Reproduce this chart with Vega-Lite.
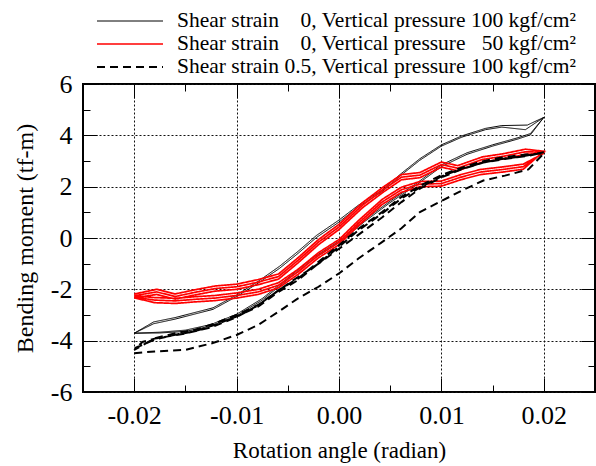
{
"$schema": "https://vega.github.io/schema/vega-lite/v6.json",
"width": 512,
"height": 308,
"autosize": {"type": "none"},
"padding": {"left": 83, "top": 84, "right": 1, "bottom": 74},
"background": "white",
"config": {
  "view": {"stroke": "black", "strokeWidth": 2},
  "font": "Liberation Serif"
},
"datasets": {
"curves": [
{"s":"a","i":1,"x":-0.02,"y":-3.71},{"s":"a","i":2,"x":-0.0175,"y":-3.70},{"s":"a","i":3,"x":-0.015,"y":-3.64},{"s":"a","i":4,"x":-0.0125,"y":-3.43},{"s":"a","i":5,"x":-0.01,"y":-3.03},{"s":"a","i":6,"x":-0.0075,"y":-2.42},{"s":"a","i":7,"x":-0.005,"y":-1.62},{"s":"a","i":8,"x":-0.0025,"y":-0.82},{"s":"a","i":9,"x":0,"y":-0.18},{"s":"a","i":10,"x":0.0025,"y":0.64},{"s":"a","i":11,"x":0.005,"y":1.38},{"s":"a","i":12,"x":0.0075,"y":2.05},{"s":"a","i":13,"x":0.01,"y":2.78},{"s":"a","i":14,"x":0.0125,"y":3.26},{"s":"a","i":15,"x":0.015,"y":3.58},{"s":"a","i":16,"x":0.0175,"y":3.86},{"s":"a","i":17,"x":0.0187,"y":4.02},{"s":"a","i":18,"x":0.02,"y":4.70},
{"s":"a","i":19,"x":0.0184,"y":4.40},{"s":"a","i":20,"x":0.0159,"y":4.38},{"s":"a","i":21,"x":0.0143,"y":4.27},{"s":"a","i":22,"x":0.012,"y":3.98},{"s":"a","i":23,"x":0.01,"y":3.63},{"s":"a","i":24,"x":0.0079,"y":3.09},{"s":"a","i":25,"x":0.0061,"y":2.52},{"s":"a","i":26,"x":0.0042,"y":1.87},{"s":"a","i":27,"x":0.0019,"y":1.28},{"s":"a","i":28,"x":0,"y":0.70},{"s":"a","i":29,"x":-0.0022,"y":0.10},{"s":"a","i":30,"x":-0.004,"y":-0.52},{"s":"a","i":31,"x":-0.0058,"y":-1.10},{"s":"a","i":32,"x":-0.0079,"y":-1.69},{"s":"a","i":33,"x":-0.01,"y":-2.22},{"s":"a","i":34,"x":-0.0123,"y":-2.72},{"s":"a","i":35,"x":-0.016,"y":-3.10},{"s":"a","i":36,"x":-0.0181,"y":-3.27},{"s":"a","i":37,"x":-0.02,"y":-3.71},
{"s":"a","i":38,"x":-0.0175,"y":-3.67},{"s":"a","i":39,"x":-0.015,"y":-3.59},{"s":"a","i":40,"x":-0.0125,"y":-3.37},{"s":"a","i":41,"x":-0.01,"y":-2.97},{"s":"a","i":42,"x":-0.0075,"y":-2.36},{"s":"a","i":43,"x":-0.005,"y":-1.56},{"s":"a","i":44,"x":-0.0025,"y":-0.76},{"s":"a","i":45,"x":0,"y":-0.12},{"s":"a","i":46,"x":0.0025,"y":0.70},{"s":"a","i":47,"x":0.005,"y":1.44},{"s":"a","i":48,"x":0.0075,"y":2.11},{"s":"a","i":49,"x":0.01,"y":2.85},{"s":"a","i":50,"x":0.0125,"y":3.32},{"s":"a","i":51,"x":0.015,"y":3.63},{"s":"a","i":52,"x":0.0175,"y":3.91},{"s":"a","i":53,"x":0.0187,"y":4.07},{"s":"a","i":54,"x":0.02,"y":4.70},
{"s":"a","i":55,"x":0.0182,"y":4.22},{"s":"a","i":56,"x":0.0159,"y":4.32},{"s":"a","i":57,"x":0.0143,"y":4.22},{"s":"a","i":58,"x":0.012,"y":3.93},{"s":"a","i":59,"x":0.01,"y":3.58},{"s":"a","i":60,"x":0.0079,"y":3.03},{"s":"a","i":61,"x":0.0061,"y":2.46},{"s":"a","i":62,"x":0.0042,"y":1.80},{"s":"a","i":63,"x":0.0019,"y":1.22},{"s":"a","i":64,"x":0,"y":0.62},{"s":"a","i":65,"x":-0.0022,"y":0.02},{"s":"a","i":66,"x":-0.004,"y":-0.60},{"s":"a","i":67,"x":-0.0058,"y":-1.18},{"s":"a","i":68,"x":-0.0079,"y":-1.76},{"s":"a","i":69,"x":-0.01,"y":-2.28},{"s":"a","i":70,"x":-0.0123,"y":-2.78},{"s":"a","i":71,"x":-0.016,"y":-3.16},{"s":"a","i":72,"x":-0.0181,"y":-3.34},{"s":"a","i":73,"x":-0.02,"y":-3.71},

{"s":"b","i":1,"x":-0.02,"y":-2.30},{"s":"b","i":2,"x":-0.018,"y":-2.42},{"s":"b","i":3,"x":-0.016,"y":-2.45},{"s":"b","i":4,"x":-0.0141,"y":-2.39},{"s":"b","i":5,"x":-0.0121,"y":-2.34},{"s":"b","i":6,"x":-0.01,"y":-2.24},{"s":"b","i":7,"x":-0.0079,"y":-2.10},{"s":"b","i":8,"x":-0.0059,"y":-1.84},{"s":"b","i":9,"x":-0.004,"y":-1.32},{"s":"b","i":10,"x":-0.002,"y":-0.67},{"s":"b","i":11,"x":0,"y":-0.16},{"s":"b","i":12,"x":0.0019,"y":0.58},{"s":"b","i":13,"x":0.0042,"y":1.40},{"s":"b","i":14,"x":0.0061,"y":1.88},{"s":"b","i":15,"x":0.0079,"y":2.10},{"s":"b","i":16,"x":0.01,"y":2.12},{"s":"b","i":17,"x":0.0119,"y":2.37},{"s":"b","i":18,"x":0.0138,"y":2.57},{"s":"b","i":19,"x":0.016,"y":2.67},{"s":"b","i":20,"x":0.018,"y":2.78},{"s":"b","i":21,"x":0.02,"y":3.34},
{"s":"b","i":22,"x":0.0182,"y":3.36},{"s":"b","i":23,"x":0.016,"y":3.18},{"s":"b","i":24,"x":0.014,"y":3.06},{"s":"b","i":25,"x":0.0116,"y":2.72},{"s":"b","i":26,"x":0.01,"y":2.86},{"s":"b","i":27,"x":0.0079,"y":2.45},{"s":"b","i":28,"x":0.0061,"y":2.37},{"s":"b","i":29,"x":0.0043,"y":1.88},{"s":"b","i":30,"x":0.0023,"y":1.28},{"s":"b","i":31,"x":0,"y":0.43},{"s":"b","i":32,"x":-0.002,"y":-0.16},{"s":"b","i":33,"x":-0.004,"y":-0.87},{"s":"b","i":34,"x":-0.0059,"y":-1.50},{"s":"b","i":35,"x":-0.0079,"y":-1.72},{"s":"b","i":36,"x":-0.01,"y":-1.90},{"s":"b","i":37,"x":-0.0121,"y":-1.97},{"s":"b","i":38,"x":-0.0141,"y":-2.12},{"s":"b","i":39,"x":-0.016,"y":-2.28},{"s":"b","i":40,"x":-0.0178,"y":-2.10},{"s":"b","i":41,"x":-0.02,"y":-2.25},
{"s":"b","i":42,"x":-0.018,"y":-2.32},{"s":"b","i":43,"x":-0.016,"y":-2.35},{"s":"b","i":44,"x":-0.0141,"y":-2.29},{"s":"b","i":45,"x":-0.0121,"y":-2.24},{"s":"b","i":46,"x":-0.01,"y":-2.14},{"s":"b","i":47,"x":-0.0079,"y":-2.00},{"s":"b","i":48,"x":-0.0059,"y":-1.74},{"s":"b","i":49,"x":-0.004,"y":-1.22},{"s":"b","i":50,"x":-0.002,"y":-0.57},{"s":"b","i":51,"x":0,"y":-0.06},{"s":"b","i":52,"x":0.0019,"y":0.68},{"s":"b","i":53,"x":0.0042,"y":1.50},{"s":"b","i":54,"x":0.0061,"y":1.98},{"s":"b","i":55,"x":0.0079,"y":2.20},{"s":"b","i":56,"x":0.01,"y":2.22},{"s":"b","i":57,"x":0.0119,"y":2.47},{"s":"b","i":58,"x":0.0138,"y":2.67},{"s":"b","i":59,"x":0.016,"y":2.77},{"s":"b","i":60,"x":0.018,"y":2.88},{"s":"b","i":61,"x":0.02,"y":3.30},
{"s":"b","i":62,"x":0.0182,"y":3.26},{"s":"b","i":63,"x":0.016,"y":3.08},{"s":"b","i":64,"x":0.014,"y":2.96},{"s":"b","i":65,"x":0.0116,"y":2.62},{"s":"b","i":66,"x":0.01,"y":2.76},{"s":"b","i":67,"x":0.0079,"y":2.35},{"s":"b","i":68,"x":0.0061,"y":2.27},{"s":"b","i":69,"x":0.0043,"y":1.78},{"s":"b","i":70,"x":0.0023,"y":1.18},{"s":"b","i":71,"x":0,"y":0.33},{"s":"b","i":72,"x":-0.002,"y":-0.26},{"s":"b","i":73,"x":-0.004,"y":-0.97},{"s":"b","i":74,"x":-0.0059,"y":-1.60},{"s":"b","i":75,"x":-0.0079,"y":-1.82},{"s":"b","i":76,"x":-0.01,"y":-2.00},{"s":"b","i":77,"x":-0.0121,"y":-2.07},{"s":"b","i":78,"x":-0.0141,"y":-2.22},{"s":"b","i":79,"x":-0.016,"y":-2.38},{"s":"b","i":80,"x":-0.0178,"y":-2.20},{"s":"b","i":81,"x":-0.02,"y":-2.33},
{"s":"b","i":82,"x":-0.018,"y":-2.52},{"s":"b","i":83,"x":-0.016,"y":-2.55},{"s":"b","i":84,"x":-0.0141,"y":-2.49},{"s":"b","i":85,"x":-0.0121,"y":-2.44},{"s":"b","i":86,"x":-0.01,"y":-2.34},{"s":"b","i":87,"x":-0.0079,"y":-2.20},{"s":"b","i":88,"x":-0.0059,"y":-1.94},{"s":"b","i":89,"x":-0.004,"y":-1.42},{"s":"b","i":90,"x":-0.002,"y":-0.77},{"s":"b","i":91,"x":0,"y":-0.26},{"s":"b","i":92,"x":0.0019,"y":0.48},{"s":"b","i":93,"x":0.0042,"y":1.30},{"s":"b","i":94,"x":0.0061,"y":1.78},{"s":"b","i":95,"x":0.0079,"y":2.00},{"s":"b","i":96,"x":0.01,"y":2.02},{"s":"b","i":97,"x":0.0119,"y":2.27},{"s":"b","i":98,"x":0.0138,"y":2.47},{"s":"b","i":99,"x":0.016,"y":2.57},{"s":"b","i":100,"x":0.018,"y":2.68},{"s":"b","i":101,"x":0.02,"y":3.38},
{"s":"b","i":102,"x":0.0182,"y":3.46},{"s":"b","i":103,"x":0.016,"y":3.28},{"s":"b","i":104,"x":0.014,"y":3.16},{"s":"b","i":105,"x":0.0116,"y":2.82},{"s":"b","i":106,"x":0.01,"y":2.96},{"s":"b","i":107,"x":0.0079,"y":2.55},{"s":"b","i":108,"x":0.0061,"y":2.47},{"s":"b","i":109,"x":0.0043,"y":1.98},{"s":"b","i":110,"x":0.0023,"y":1.38},{"s":"b","i":111,"x":0,"y":0.53},{"s":"b","i":112,"x":-0.002,"y":-0.06},{"s":"b","i":113,"x":-0.004,"y":-0.77},{"s":"b","i":114,"x":-0.0059,"y":-1.40},{"s":"b","i":115,"x":-0.0079,"y":-1.62},{"s":"b","i":116,"x":-0.01,"y":-1.80},{"s":"b","i":117,"x":-0.0121,"y":-1.87},{"s":"b","i":118,"x":-0.0141,"y":-2.02},{"s":"b","i":119,"x":-0.016,"y":-2.18},{"s":"b","i":120,"x":-0.0178,"y":-2.00},{"s":"b","i":121,"x":-0.02,"y":-2.18},

{"s":"c","i":1,"x":-0.02,"y":-4.49},{"s":"c","i":2,"x":-0.018,"y":-4.42},{"s":"c","i":3,"x":-0.015,"y":-4.36},{"s":"c","i":4,"x":-0.0124,"y":-4.10},{"s":"c","i":5,"x":-0.01,"y":-3.78},{"s":"c","i":6,"x":-0.0079,"y":-3.39},{"s":"c","i":7,"x":-0.0059,"y":-2.87},{"s":"c","i":8,"x":-0.004,"y":-2.35},{"s":"c","i":9,"x":-0.002,"y":-1.90},{"s":"c","i":10,"x":0,"y":-1.38},{"s":"c","i":11,"x":0.0019,"y":-0.80},{"s":"c","i":12,"x":0.0042,"y":-0.16},{"s":"c","i":13,"x":0.0061,"y":0.38},{"s":"c","i":14,"x":0.0079,"y":1.01},{"s":"c","i":15,"x":0.01,"y":1.44},{"s":"c","i":16,"x":0.012,"y":1.85},{"s":"c","i":17,"x":0.0141,"y":2.24},{"s":"c","i":18,"x":0.0162,"y":2.43},{"s":"c","i":19,"x":0.0185,"y":2.67},{"s":"c","i":20,"x":0.02,"y":3.30},
{"s":"c","i":21,"x":0.0182,"y":3.25},{"s":"c","i":22,"x":0.0159,"y":3.14},{"s":"c","i":23,"x":0.0139,"y":2.98},{"s":"c","i":24,"x":0.0117,"y":2.70},{"s":"c","i":25,"x":0.01,"y":2.45},{"s":"c","i":26,"x":0.0079,"y":2.03},{"s":"c","i":27,"x":0.0061,"y":1.60},{"s":"c","i":28,"x":0.0042,"y":1.01},{"s":"c","i":29,"x":0.0019,"y":0.36},{"s":"c","i":30,"x":0,"y":-0.28},{"s":"c","i":31,"x":-0.002,"y":-0.93},{"s":"c","i":32,"x":-0.004,"y":-1.58},{"s":"c","i":33,"x":-0.0059,"y":-2.03},{"s":"c","i":34,"x":-0.0079,"y":-2.61},{"s":"c","i":35,"x":-0.01,"y":-3.00},{"s":"c","i":36,"x":-0.0121,"y":-3.32},{"s":"c","i":37,"x":-0.0141,"y":-3.58},{"s":"c","i":38,"x":-0.016,"y":-3.71},{"s":"c","i":39,"x":-0.018,"y":-3.91},{"s":"c","i":40,"x":-0.02,"y":-4.36},
{"s":"c","i":41,"x":-0.0192,"y":-4.05},{"s":"c","i":42,"x":-0.018,"y":-3.92},{"s":"c","i":43,"x":-0.015,"y":-3.72},{"s":"c","i":44,"x":-0.0124,"y":-3.47},{"s":"c","i":45,"x":-0.01,"y":-3.08},{"s":"c","i":46,"x":-0.0079,"y":-2.62},{"s":"c","i":47,"x":-0.0059,"y":-2.04},{"s":"c","i":48,"x":-0.004,"y":-1.52},{"s":"c","i":49,"x":-0.002,"y":-1.00},{"s":"c","i":50,"x":0,"y":-0.42},{"s":"c","i":51,"x":0.0016,"y":0.04},{"s":"c","i":52,"x":0.0042,"y":0.80},{"s":"c","i":53,"x":0.0061,"y":1.40},{"s":"c","i":54,"x":0.0079,"y":1.92},{"s":"c","i":55,"x":0.01,"y":2.36},{"s":"c","i":56,"x":0.012,"y":2.68},{"s":"c","i":57,"x":0.0141,"y":2.94},{"s":"c","i":58,"x":0.0162,"y":3.08},{"s":"c","i":59,"x":0.0185,"y":3.20},{"s":"c","i":60,"x":0.02,"y":3.34},
{"s":"c","i":61,"x":0.0182,"y":3.20},{"s":"c","i":62,"x":0.0159,"y":3.08},{"s":"c","i":63,"x":0.0139,"y":2.92},{"s":"c","i":64,"x":0.0117,"y":2.66},{"s":"c","i":65,"x":0.01,"y":2.40},{"s":"c","i":66,"x":0.0079,"y":1.97},{"s":"c","i":67,"x":0.0061,"y":1.54},{"s":"c","i":68,"x":0.0042,"y":0.95},{"s":"c","i":69,"x":0.0019,"y":0.30},{"s":"c","i":70,"x":0,"y":-0.34},{"s":"c","i":71,"x":-0.002,"y":-0.99},{"s":"c","i":72,"x":-0.004,"y":-1.64},{"s":"c","i":73,"x":-0.0059,"y":-2.10},{"s":"c","i":74,"x":-0.0079,"y":-2.67},{"s":"c","i":75,"x":-0.01,"y":-3.06},{"s":"c","i":76,"x":-0.0121,"y":-3.38},{"s":"c","i":77,"x":-0.0141,"y":-3.64},{"s":"c","i":78,"x":-0.016,"y":-3.77},{"s":"c","i":79,"x":-0.018,"y":-3.96},{"s":"c","i":80,"x":-0.02,"y":-4.30}
]
},
"layer": [
{
  "data": {"name": "curves"},
  "mark": {"type": "line"},
  "encoding": {
    "x": {"field": "x", "type": "quantitative",
      "scale": {"domain": [-0.025, 0.025], "nice": false, "zero": false},
      "axis": {
        "orient": "bottom",
        "values": [-0.02, -0.015, -0.01, -0.005, 0, 0.005, 0.01, 0.015, 0.02],
        "domain": false,
        "grid": true, "gridColor": "#111111", "gridDash": [2, 2], "gridWidth": 1,
        "gridOpacity": {"condition": {"test": "abs(datum.value*100 - round(datum.value*100)) < 0.001", "value": 1}, "value": 0},
        "ticks": true, "tickColor": "black", "tickWidth": 1,
        "tickSize": {"condition": {"test": "abs(datum.value*100 - round(datum.value*100)) < 0.001", "value": -14}, "value": -7},
        "labelExpr": "abs(datum.value*100 - round(datum.value*100)) < 0.001 ? replace(format(datum.value, '.2f'), '\u2212', '-') : ''",
        "labelFont": "Liberation Serif", "labelFontSize": 26, "labelColor": "black",
        "labelPadding": 24, "labelFlush": false, "labelOverlap": false, "labelBound": false,
        "title": "Rotation angle (radian)", "titleFont": "Liberation Serif", "titleFontSize": 23,
        "titleFontWeight": "normal", "titleColor": "black", "titlePadding": 4
      }
    },
    "y": {"field": "y", "type": "quantitative",
      "scale": {"domain": [-6, 6], "nice": false, "zero": false},
      "axis": {
        "orient": "left",
        "values": [-6, -5, -4, -3, -2, -1, 0, 1, 2, 3, 4, 5, 6],
        "domain": false,
        "grid": true, "gridColor": "#111111", "gridDash": [2, 2], "gridWidth": 1,
        "gridOpacity": {"condition": {"test": "abs(datum.value % 2) < 0.001", "value": 1}, "value": 0},
        "ticks": true, "tickColor": "black", "tickWidth": 1,
        "tickSize": {"condition": {"test": "abs(datum.value % 2) < 0.001", "value": -14}, "value": -7},
        "labelExpr": "abs(datum.value % 2) < 0.001 ? replace(format(datum.value, 'd'), '\u2212', '-') : ''",
        "labelFont": "Liberation Serif", "labelFontSize": 26, "labelColor": "black",
        "labelPadding": 25, "labelFlush": false, "labelOverlap": false, "labelBound": false,
        "title": "Bending moment (tf-m)", "titleFont": "Liberation Serif", "titleFontSize": 24,
        "titleFontWeight": "normal", "titleColor": "black", "titlePadding": 13
      }
    },
    "order": {"field": "i", "type": "quantitative"},
    "color": {"field": "s", "type": "nominal",
      "scale": {"domain": ["a", "b", "c"], "range": ["#000000", "#ff0000", "#000000"]},
      "legend": {"title": null, "orient": "none", "legendX": 13, "legendY": -74.5, "direction": "vertical",
        "symbolType": "stroke", "symbolSize": 4356, "clipHeight": 23, "rowPadding": 0, "labelOffset": 13,
        "symbolOffset": 0, "padding": 0, "offset": 0,
        "labelFont": "Liberation Serif", "labelFontSize": 21.5, "labelColor": "black", "labelLimit": 1000,
        "labelExpr": "datum.label == 'a' ? 'Shear strain \u2008\u20070, Vertical pressure 100 kgf/cm\u00b2' : datum.label == 'b' ? 'Shear strain \u2008\u20070, Vertical pressure \u200750 kgf/cm\u00b2' : 'Shear strain 0.5, Vertical pressure 100 kgf/cm\u00b2'"}
    },
    "strokeDash": {"field": "s", "type": "nominal",
      "scale": {"domain": ["a", "b", "c"], "range": [[1, 0], [1, 0], [8, 5]]},
      "legend": {"title": null, "orient": "none", "legendX": 13, "legendY": -74.5, "direction": "vertical",
        "symbolType": "stroke", "symbolSize": 4356, "clipHeight": 23, "rowPadding": 0, "labelOffset": 13,
        "symbolOffset": 0, "padding": 0, "offset": 0,
        "labelFont": "Liberation Serif", "labelFontSize": 21.5, "labelColor": "black", "labelLimit": 1000,
        "labelExpr": "datum.label == 'a' ? 'Shear strain \u2008\u20070, Vertical pressure 100 kgf/cm\u00b2' : datum.label == 'b' ? 'Shear strain \u2008\u20070, Vertical pressure \u200750 kgf/cm\u00b2' : 'Shear strain 0.5, Vertical pressure 100 kgf/cm\u00b2'"}
    },
    "strokeWidth": {"field": "s", "type": "nominal",
      "scale": {"type": "ordinal", "domain": ["a", "b", "c"], "range": [1, 1.7, 2]},
      "legend": {"title": null, "orient": "none", "legendX": 13, "legendY": -74.5, "direction": "vertical",
        "symbolType": "stroke", "symbolSize": 4356, "clipHeight": 23, "rowPadding": 0, "labelOffset": 13,
        "symbolOffset": 0, "padding": 0, "offset": 0,
        "labelFont": "Liberation Serif", "labelFontSize": 21.5, "labelColor": "black", "labelLimit": 1000,
        "labelExpr": "datum.label == 'a' ? 'Shear strain \u2008\u20070, Vertical pressure 100 kgf/cm\u00b2' : datum.label == 'b' ? 'Shear strain \u2008\u20070, Vertical pressure \u200750 kgf/cm\u00b2' : 'Shear strain 0.5, Vertical pressure 100 kgf/cm\u00b2'"}
    }
  }
},
{
  "data": {"values": []},
  "mark": {"type": "point"},
  "encoding": {
    "x": {"field": "x", "type": "quantitative",
      "axis": {
        "orient": "top",
        "values": [-0.02, -0.015, -0.01, -0.005, 0, 0.005, 0.01, 0.015, 0.02],
        "domain": false, "grid": false, "labels": false, "title": null,
        "ticks": true, "tickColor": "black", "tickWidth": 1,
        "tickSize": {"condition": {"test": "abs(datum.value*100 - round(datum.value*100)) < 0.001", "value": -14}, "value": -7}
      }
    },
    "y": {"field": "y", "type": "quantitative",
      "axis": {
        "orient": "right",
        "values": [-6, -5, -4, -3, -2, -1, 0, 1, 2, 3, 4, 5, 6],
        "domain": false, "grid": false, "labels": false, "title": null,
        "ticks": true, "tickColor": "black", "tickWidth": 1,
        "tickSize": {"condition": {"test": "abs(datum.value % 2) < 0.001", "value": -14}, "value": -7}
      }
    }
  }
}
],
"resolve": {"axis": {"x": "independent", "y": "independent"}}
}
